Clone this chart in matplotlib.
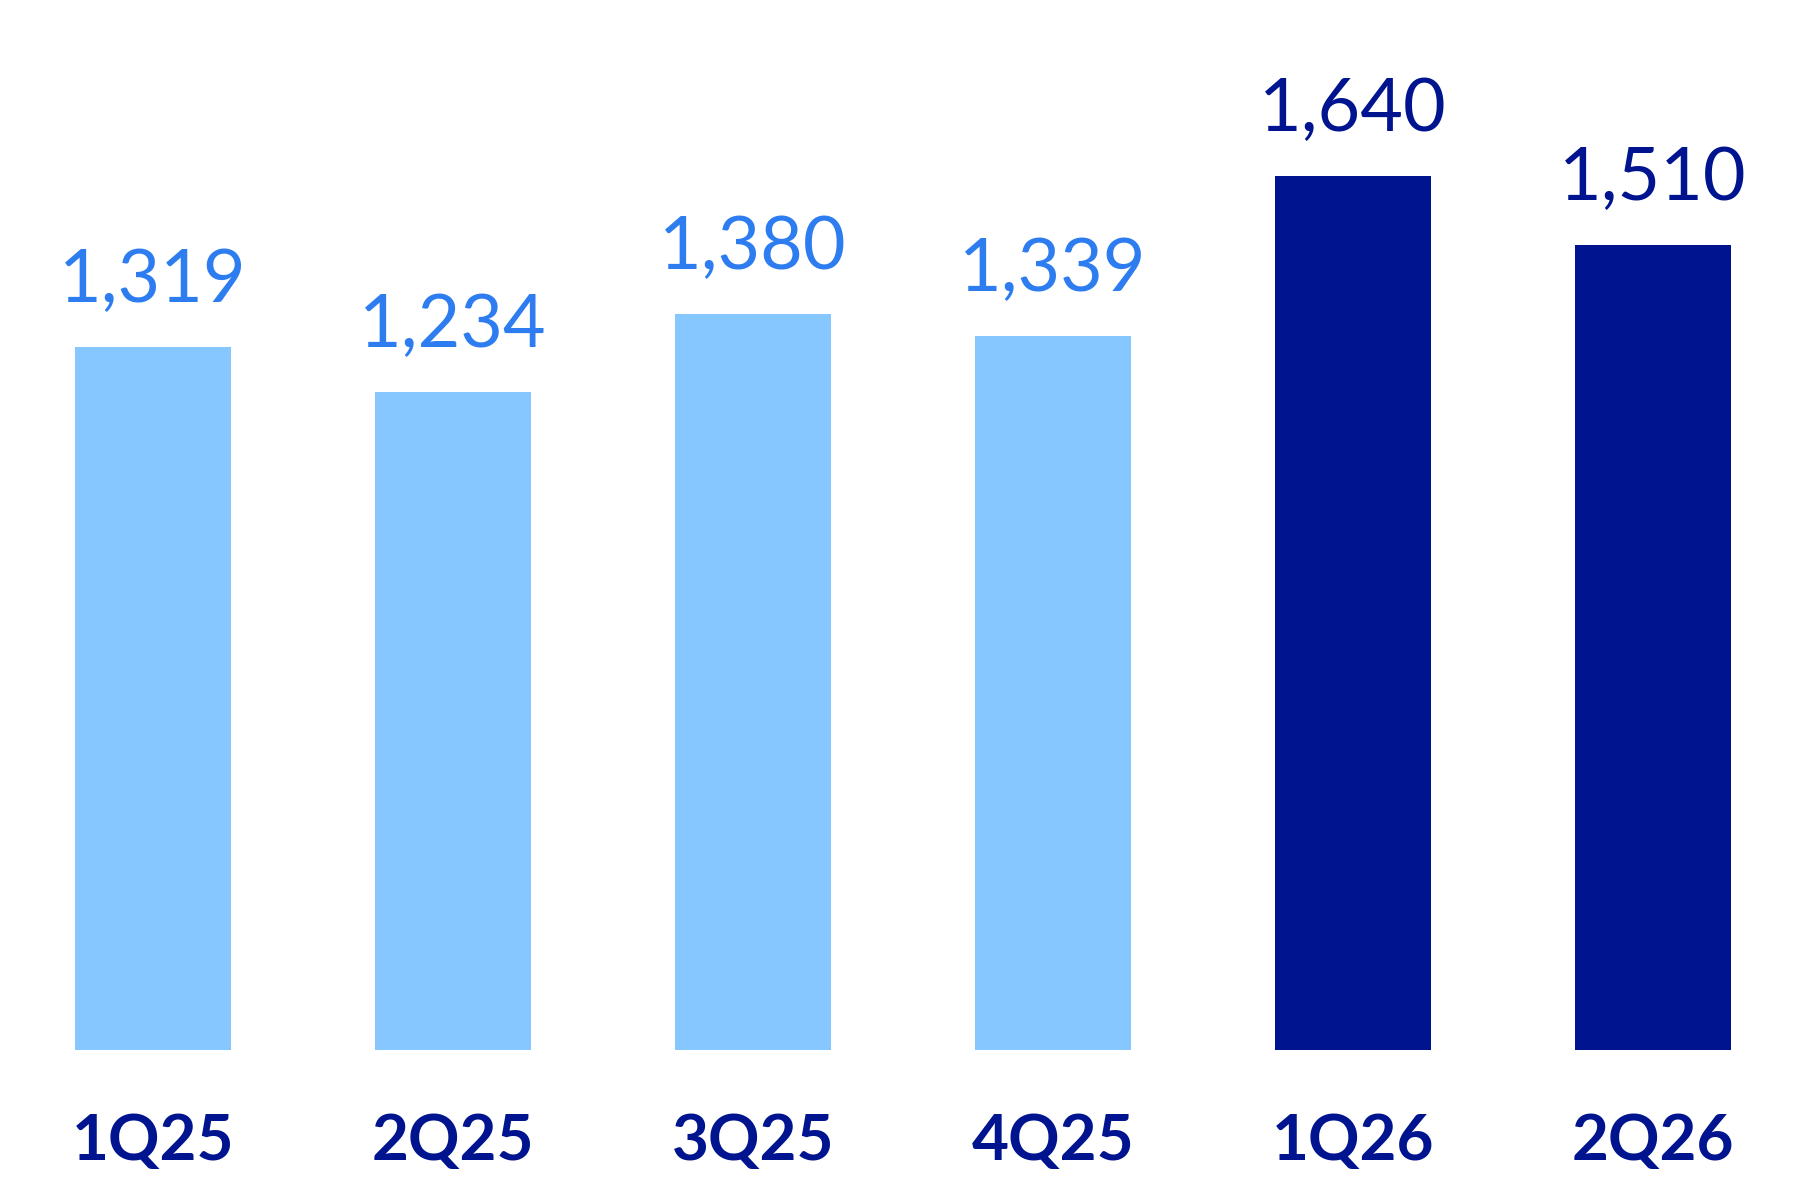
import matplotlib
matplotlib.use('Agg')
import matplotlib.pyplot as plt

quarters = ['1Q25', '2Q25', '3Q25', '4Q25', '1Q26', '2Q26']
values = [1319, 1234, 1380, 1339, 1640, 1510]
is_current = [False, False, False, False, True, True]

light_bar = '#87C7FF'
light_text = '#2E7DF0'
navy = '#00148F'

plt.rcParams['font.family'] = ['Lato', 'DejaVu Sans']

fig = plt.figure(figsize=(18, 12), dpi=100)
ax = fig.add_axes([0, 0.125, 1, 0.875])

x = range(len(quarters))
bar_colors = [navy if c else light_bar for c in is_current]
ax.bar(x, values, width=0.517, color=bar_colors)

px = 72 / 100  # points per pixel
for i, v in enumerate(values):
    col = navy if is_current[i] else light_text
    ax.annotate('{:,}'.format(v), (i, v), xytext=(0, 45 * px), textcoords='offset points',
                ha='center', va='baseline', fontsize=53, color=col)
    ax.annotate(quarters[i], (i, 0), xytext=(0, -110 * px), textcoords='offset points',
                ha='center', va='baseline', fontsize=46, fontweight='bold', color=navy,
                annotation_clip=False)

ax.set_xlim(-0.51, 5.49)
ax.set_ylim(0, 1970)
ax.axis('off')

fig.savefig('out.png', dpi=100)
